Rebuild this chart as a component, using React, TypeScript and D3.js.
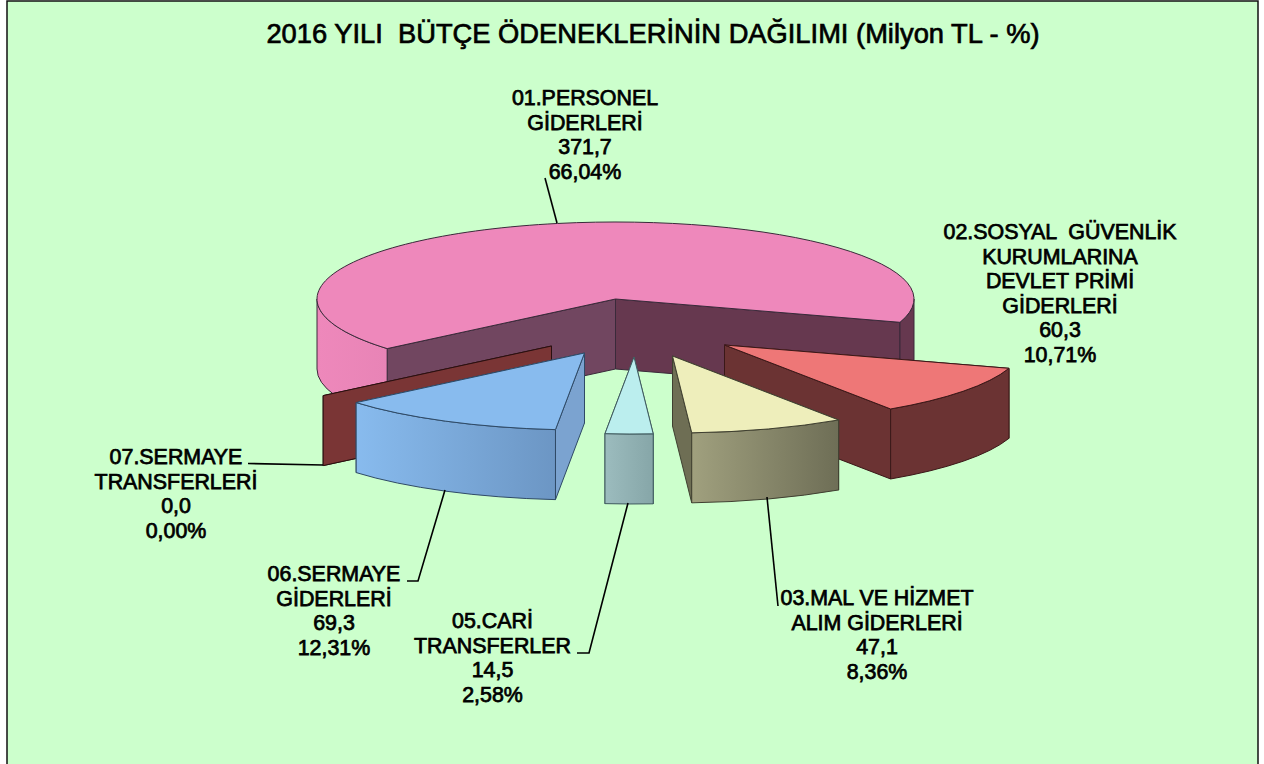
import React from "react";
import * as d3 from "d3";

const TITLE = "2016 YILI  BÜTÇE ÖDENEKLERİNİN DAĞILIMI (Milyon TL - %)";

const categories = ["01", "02", "03", "05", "06", "07"];
const labelNames = [
  ["01.PERSONEL", "GİDERLERİ"],
  ["02.SOSYAL  GÜVENLİK", "KURUMLARINA", "DEVLET PRİMİ", "GİDERLERİ"],
  ["03.MAL VE HİZMET", "ALIM GİDERLERİ"],
  ["05.CARİ", "TRANSFERLER"],
  ["06.SERMAYE", "GİDERLERİ"],
  ["07.SERMAYE", "TRANSFERLERİ"],
];
const amounts = [371.7, 60.3, 47.1, 14.5, 69.3, 0];
const amountLabels = ["371,7", "60,3", "47,1", "14,5", "69,3", "0,0"];
const shareLabels = ["66,04%", "10,71%", "8,36%", "2,58%", "12,31%", "0,00%"];

// layout
const W = 1264, H = 764;
const CX = 615.5, CY = 299, RX = 298.5, RY = 77, DEPTH = 70;
const ROTATION = (229.9 * Math.PI) / 180;
const explode = [[0, 0], [109, 46], [57, 57], [18.5, 58], [-31, 54], [-64, 47]];
const topFill = ["#EE88BB", "#EE7777", "#EEEEBB", "#BBEEEE", "#88BBEE", "#7A3535"];
const wallFill = ["#66384F", "#6B3333", "#6E6E54", "#8FB0B0", "#7BA3D0", "#7A3535"];
const startWallFill = ["#714660", "#6B3333", "#6E6E54", "#8FB0B0", "#7BA3D0", "#7A3535"];
const outerFrom = ["#EE88BB", "#6B3333", "#A0A07E", "#9CBCBE", "#88BBEE", "#7A3535"];
const outerTo = ["#E884B6", "#6B3333", "#6E6E56", "#86A6A8", "#6C96C4", "#7A3535"];
const edgeColor = ["#3a2a3a", "#3a1818", "#3f3f30", "#3f5a5e", "#2f4a66", "#2a1010"];
const paintOrder = [0, 5, 1, 2, 3, 4];
const labelX = [585, 1060, 877, 492.5, 334, 176];
const labelY = [105, 239, 605, 628, 581, 464];
const LINE = 24.5;
const leaders = [
  [[545, 178], [557, 223]],
  null,
  [[778, 606], [767, 497]],
  [[577, 653], [589, 653], [628, 503]],
  [[407, 581], [418, 581], [445, 490]],
  [[248, 463.5], [323, 465]],
];

const FONT = "'Liberation Sans', Arial, sans-serif";

type P = [number, number];

const TAU = 2 * Math.PI;

const pie = d3
  .pie<number>()
  .sort(null)
  .startAngle(ROTATION)
  .endAngle(ROTATION + TAU);

function rim(a: number, ox: number, oy: number): P {
  return [ox + RX * Math.sin(a), oy - RY * Math.cos(a)];
}

function wall(ax: number, ay: number, e: P) {
  return d3.line()([
    [ax, ay],
    e,
    [e[0], e[1] + DEPTH],
    [ax, ay + DEPTH],
  ] as P[]) + "Z";
}

function arcTo(p: P, large: number, sweep: number) {
  return `A${RX},${RY} 0 ${large} ${sweep} ${p[0]},${p[1]}`;
}

// One piece of the outer cylinder wall between two angles
function outerWall(a0: number, a1: number, ox: number, oy: number) {
  const s = rim(a0, ox, oy);
  const e = rim(a1, ox, oy);
  return (
    `M${s[0]},${s[1]}` +
    arcTo(e, 0, 1) +
    `L${e[0]},${e[1] + DEPTH}` +
    arcTo([s[0], s[1] + DEPTH], 0, 0) +
    "Z"
  );
}

// Parts of [a0,a1] in the front half of the pie (quarter turn to three quarters)
function frontParts(a0: number, a1: number): [number, number][] {
  const parts: [number, number][] = [];
  for (const k of [-1, 0, 1, 2]) {
    const lo = Math.max(a0, TAU * k + Math.PI / 2);
    const hi = Math.min(a1, TAU * k + (3 * Math.PI) / 2);
    if (hi > lo + 1e-6) parts.push([lo, hi]);
  }
  return parts;
}

export default function App() {
  const arcs = pie(amounts);
  return (
    <svg
      width={W}
      height={H}
      viewBox={`0 0 ${W} ${H}`}
      style={{ position: "absolute", left: 0, top: 0, display: "block" }}
    >
      <defs>
        {categories.map((c, i) => (
          <linearGradient key={c} id={`outer${i}`} x1="0" x2="1" y1="0" y2="0">
            <stop offset="0" stopColor={outerFrom[i]} />
            <stop offset="1" stopColor={outerTo[i]} />
          </linearGradient>
        ))}
      </defs>
      <rect x={7} y={1} width={1251} height={790} fill="#CCFFCC" stroke="#111" strokeWidth={1.5} />
      <text
        x={653}
        y={43}
        textAnchor="middle"
        fontFamily={FONT}
        fontSize={27.3}
        fill="#000"
        stroke="#000"
        strokeWidth={0.7}
        style={{ whiteSpace: "pre" }}
      >
        {TITLE}
      </text>

      {paintOrder.map((i) => {
        const d = arcs[i];
        const a0 = d.startAngle;
        const a1 = d.endAngle;
        const ax = CX + explode[i][0];
        const ay = CY + explode[i][1];
        const s = rim(a0, ax, ay);
        const e = rim(a1, ax, ay);
        const large = a1 - a0 > Math.PI ? 1 : 0;
        const common = { stroke: edgeColor[i], strokeWidth: 1, strokeLinejoin: "round" as const };
        const startWall = <path key="s" d={wall(ax, ay, s)} fill={startWallFill[i]} {...common} />;
        const endWall = <path key="e" d={wall(ax, ay, e)} fill={wallFill[i]} {...common} />;
        const rightSide = Math.sin((a0 + a1) / 2) > 0;
        return (
          <g key={categories[i]}>
            {rightSide ? [startWall, endWall] : [endWall, startWall]}
            {frontParts(a0, a1).map(([lo, hi], k) => {
              const darkPart = i === 0 && Math.sin((lo + hi) / 2) > 0;
              return (
                <path
                  key={k}
                  d={outerWall(lo, hi, ax, ay)}
                  fill={darkPart ? wallFill[0] : `url(#outer${i})`}
                  {...common}
                />
              );
            })}
            {amounts[i] > 0 ? (
              <path
                d={`M${ax},${ay}L${s[0]},${s[1]}${arcTo(e, large, 1)}Z`}
                fill={topFill[i]}
                {...common}
              />
            ) : null}
          </g>
        );
      })}

      {leaders.map((pts, i) =>
        pts ? (
          <path
            key={i}
            d={d3.line()(pts as P[]) || ""}
            fill="none"
            stroke="#000"
            strokeWidth={1.6}
          />
        ) : null
      )}

      {categories.map((c, i) => {
        const lines = [...labelNames[i], amountLabels[i], shareLabels[i]];
        return (
          <g key={c}>
            {lines.map((t, k) => (
              <text
                key={k}
                x={labelX[i]}
                y={labelY[i] + k * LINE}
                textAnchor="middle"
                fontFamily={FONT}
                fontSize={21.4}
                fill="#000"
                stroke="#000"
                strokeWidth={0.75}
                style={{ whiteSpace: "pre" }}
              >
                {t}
              </text>
            ))}
          </g>
        );
      })}
    </svg>
  );
}
